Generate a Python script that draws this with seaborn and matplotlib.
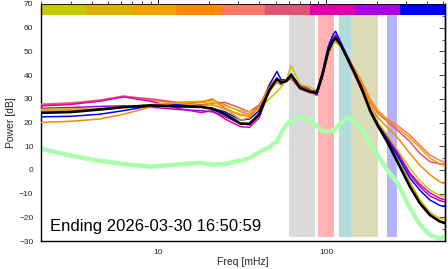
import numpy as np
import pandas as pd
import matplotlib
matplotlib.use("Agg")
import matplotlib.pyplot as plt
import seaborn as sns
from matplotlib.ticker import LogLocator, NullFormatter, MultipleLocator, FixedLocator, FixedFormatter

# ---------------- data ----------------
freq = [2, 3, 4.5, 6.2, 9, 13, 18, 21, 25, 31, 35, 40, 46, 51, 54, 58, 62, 70, 80, 88,
        95, 103, 110, 114, 122, 133, 148, 164, 183, 204, 231, 264, 316, 362, 416, 477, 512]

p_salmon = [27.8, 28.3, 29.5, 31.2, 29.5, 28, 28.8, 29.5, 27.5, 24.5, 23.5, 27,
            35, 37, 37.5, 38, 38.5, 34, 32.5, 32, 39, 49, 53, 54, 52, 48, 42.5, 37,
            30, 25, 21.5, 19, 14.7, 10.5, 6.3, 4, 3.2]
p_rose = [27.5, 28, 29.3, 31, 30, 28.5, 27.5, 28, 28.5, 26, 24.5, 27.5,
          34.5, 37.5, 37, 37.5, 38.5, 34.5, 33, 31.5, 39, 49.5, 54, 55, 52.5, 48, 42, 36.5,
          28.5, 24, 20.5, 17, 12, 7, 3.5, 2.5, 2.5]
p_magenta = [27, 27.6, 29, 30.8, 29, 26, 24.2, 25, 21.5, 18.2, 18, 22,
             34, 37, 36, 37.5, 39, 36, 34, 31.5, 39, 50, 55, 56.5, 53.5, 47, 40, 33,
             26, 19.5, 14, 8, -1.3, -6, -9.7, -12, -12.6]
p_purple = [26, 26.3, 26.8, 27, 26.5, 25.5, 25, 24.5, 22.5, 19.5, 19, 23,
            35, 38, 37, 37.5, 39.5, 35.5, 33.5, 32, 39.5, 50.5, 55.5, 57, 53.5, 47.5, 40.5, 33.5,
            25.5, 19, 13.5, 7.5, -2, -7, -11, -13, -13.5]
p_yellow = [25.5, 25.7, 26, 26.5, 27, 28, 29, 28.5, 27, 25, 24.5, 25.5,
            30, 33, 35, 38, 44, 36, 35, 33.5, 40, 49, 53, 54, 52.5, 47, 41, 34,
            26, 20, 15, 9, 0.8, -4.5, -8.5, -10.8, -11.4]
p_gold = [25.2, 25.4, 25.8, 26.5, 27.5, 28.5, 28.8, 27.5, 25.5, 23.5, 23, 26,
          33, 37, 36.5, 37.5, 39.5, 35, 33, 32.5, 40, 50, 54, 55, 52.5, 47.5, 41, 34.5,
          25, 18.5, 12, 5, -5, -12.5, -17.8, -20.5, -21]
p_amber = [24.8, 25, 25.5, 26.2, 27.5, 28, 27, 27.5, 26, 23, 22.5, 26.5,
           36, 38.5, 37, 38, 39, 35, 33.5, 33, 40, 50, 54, 55, 53, 48.5, 42.5, 36.5,
           29, 24.5, 21, 18, 13.5, 9.5, 5, 2.5, 1.8]
p_blue = [22.4, 22.6, 23.5, 25, 27, 27.5, 26.5, 26, 24.5, 21, 21.5, 25,
          36, 41.5, 38, 38, 40.5, 35, 33.5, 33, 41, 52, 57, 58.5, 54, 48.5, 41.5, 34.5,
          25.5, 19, 13, 6.5, -3.4, -8.5, -12.7, -15, -15.5]
p_orange = [20, 20.5, 21.5, 23.5, 26.5, 28.5, 28.5, 30, 26, 21, 22, 27,
            35, 38, 37, 38, 40, 35, 33.5, 32.5, 40, 50, 54.5, 55.5, 53, 48, 42, 36,
            27, 22, 18, 14, 7, 2, -2, -5, -6]
p_black = [24.1, 24.4, 25.5, 26.5, 27.2, 26.8, 26.6, 25.8, 23.5, 19.5, 19.5, 23.5,
           33.7, 38.5, 36.8, 37.5, 40, 34.6, 33, 32.5, 40, 50, 54.5, 55.6, 53, 47.6, 41, 34,
           25, 18.5, 12, 4, -7, -14, -19, -21.8, -22.4]
p_green = [9, 6, 3.8, 2.5, 1.3, 2.3, 3, 2.2, 2.5, 4, 5, 7.6, 9.7, 12, 15.6, 19, 21, 22.3,
           21, 18.5, 16.5, 16, 16.5, 17.5, 19.5, 22, 20.5, 17, 11, 6, 0, -5, -16, -23,
           -27.5, -29, -28]

series_names = ["salmon", "rose", "magenta", "purple", "yellow", "gold", "amber", "blue", "orange"]
series_values = [p_salmon, p_rose, p_magenta, p_purple, p_yellow, p_gold, p_amber, p_blue, p_orange]
series_colors = ["#ff7766", "#dd5577", "#dd00aa", "#aa00dd", "#c8c800", "#ddb000", "#f0a000", "#0000ff", "#ff8800"]

bar_colors = ["#c8c800", "#ddb000", "#f0a000", "#ff8800", "#ff7766", "#dd5577", "#dd00aa", "#aa00dd", "#0000ff"]

region_lo = [60, 90, 120, 140, 231]
region_hi = [86, 111, 140, 204, 264]
region_colors = ["#d9d9d9", "#ffb3b3", "#b3dcdc", "#dcdcb8", "#b3b3ff"]

title_text = "Ending 2026-03-30 16:50:59"

# ---------------- figure ----------------
sns.set_style("white")
plt.rcParams['font.family'] = ['Liberation Sans', 'DejaVu Sans']

XMIN, XMAX = 2, 512
fig = plt.figure(figsize=(4.48, 2.69), dpi=100)
ax = fig.add_axes([41/448, 1-241/269, 404/448, 237/269])
ax.set_xscale("log")
ax.set_xlim(XMIN, XMAX)
ax.set_ylim(-30, 70)

# top colour bar
edges = np.geomspace(XMIN, XMAX, len(bar_colors) + 1)
for c, e0, e1 in zip(bar_colors, edges[:-1], edges[1:]):
    ax.fill_between([e0, e1], 65.4, 70, color=c, lw=0, zorder=1)

# frequency bands
for lo, hi, c in zip(region_lo, region_hi, region_colors):
    ax.fill_between([lo, hi], -28.3, 65.4, color=c, lw=0, zorder=1)

rows = []
for name, vals in zip(series_names, series_values):
    for f, v in zip(freq, vals):
        rows.append({"freq": f, "power": v, "series": name})
df = pd.DataFrame(rows)

sns.lineplot(data=pd.DataFrame({"freq": freq, "power": p_green}), x="freq", y="power",
             color="#aaffaa", lw=3.2, ax=ax, estimator=None, zorder=2)
sns.lineplot(data=df, x="freq", y="power", hue="series", hue_order=series_names,
             palette=dict(zip(series_names, series_colors)), lw=1.1, ax=ax,
             estimator=None, legend=False, zorder=3)
sns.lineplot(data=pd.DataFrame({"freq": freq, "power": p_black}), x="freq", y="power",
             color="black", lw=1.9, ax=ax, estimator=None, zorder=4)

ax.text((50-41)/404, (241-231)/237, title_text, transform=ax.transAxes, fontsize=12,
        va="baseline", ha="left", color="black", zorder=5)

ax.set_xlabel("Freq [mHz]", fontsize=7.5, labelpad=1)
ax.set_ylabel("Power [dB]", fontsize=7.5, labelpad=2)

ax.xaxis.set_major_locator(FixedLocator([10, 100]))
ax.xaxis.set_major_formatter(FixedFormatter(["10", "100"]))
ax.xaxis.set_minor_locator(LogLocator(base=10, subs=np.arange(2, 10)))
ax.xaxis.set_minor_formatter(NullFormatter())
ax.yaxis.set_major_locator(MultipleLocator(10))
ax.yaxis.set_minor_locator(MultipleLocator(5))

ax.tick_params(axis="both", which="major", direction="out", length=4, width=0.6,
               labelsize=6, pad=1.5, color="black")
ax.tick_params(axis="both", which="minor", direction="out", length=2, width=0.5, color="black")
ax.tick_params(axis="x", top=True, which="both")
for s in ax.spines.values():
    s.set_color("black")
    s.set_linewidth(1.0)
ax.spines["top"].set_linewidth(0.6)

rax = ax.secondary_yaxis("right")
rax.yaxis.set_major_locator(MultipleLocator(10))
rax.yaxis.set_minor_locator(MultipleLocator(5))
rax.tick_params(axis="y", which="major", direction="in", length=4, width=0.6, labelright=False)
rax.tick_params(axis="y", which="minor", direction="in", length=2, width=0.5)
rax.spines["right"].set_linewidth(1.0)

fig.savefig("out.png", dpi=100)
